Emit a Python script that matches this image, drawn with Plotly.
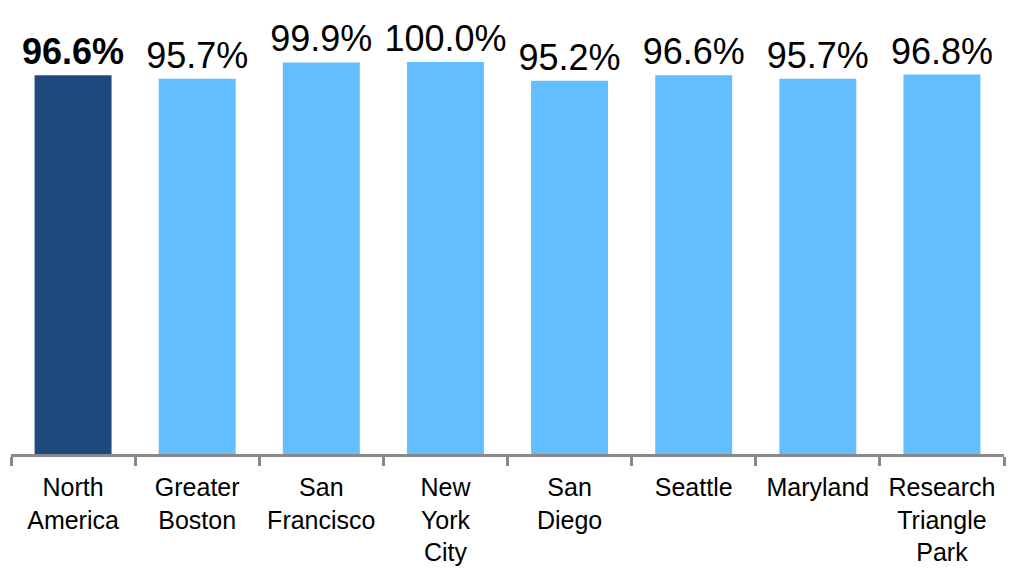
import plotly.graph_objects as go

categories = ["North<br>America", "Greater<br>Boston", "San<br>Francisco", "New<br>York<br>City",
              "San<br>Diego", "Seattle", "Maryland", "Research<br>Triangle<br>Park"]
values = [96.6, 95.7, 99.9, 100.0, 95.2, 96.6, 95.7, 96.8]
colors = ["#1F497D"] + ["#63BEFF"] * 7
templates = ["<b>%{y:.1f}%</b>"] + ["%{y:.1f}%"] * 7

fig = go.Figure(go.Bar(
    x=categories, y=values,
    marker=dict(color=colors, line=dict(width=0)),
    texttemplate=templates, textposition="outside",
    textfont=dict(size=36, color="black", family="Arial, Liberation Sans"),
    constraintext="none", cliponaxis=False,
))

fig.update_layout(
    width=1015, height=582,
    margin=dict(l=11, r=11, t=62, b=128),
    paper_bgcolor="white", plot_bgcolor="white",
    bargap=0.38, showlegend=False,
    font=dict(family="Arial, Liberation Sans", color="black"),
)
fig.update_xaxes(
    showline=True, linecolor="#898989", linewidth=3,
    ticks="outside", tickson="boundaries", ticklen=9, tickwidth=3, tickcolor="#898989",
    tickfont=dict(size=25, color="black"), ticklabelstandoff=9, showgrid=False,
)
fig.update_yaxes(range=[0, 100], visible=False, showgrid=False, zeroline=False)

fig.write_html("out.html")
